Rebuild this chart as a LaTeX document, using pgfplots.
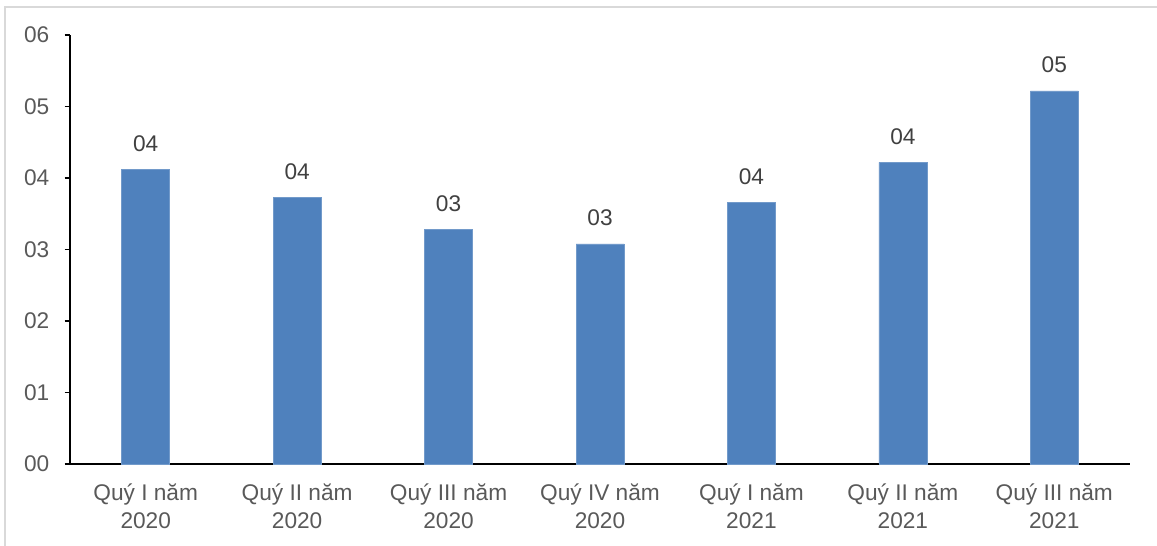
\documentclass[border=0pt]{standalone}
\usepackage{pgfplots}
\pgfplotsset{compat=1.18}
\usepackage{fontspec}
\setmainfont{Liberation Sans}
\definecolor{barblue}{HTML}{4F81BD}
\definecolor{axgray}{HTML}{595959}
\definecolor{lblgray}{HTML}{404040}
\definecolor{brd}{HTML}{D9D9D9}
\begin{document}
\begin{tikzpicture}
\draw[brd,line width=1.5pt] (4.1pt,0pt) -- (4.1pt,404.6pt) -- (867.75pt,404.6pt);
\begin{axis}[
  at={(52.5pt,61.5pt)}, anchor=south west,
  scale only axis, width=795pt, height=321.75pt,
  xmin=-0.5, xmax=6.5, ymin=0, ymax=6,
  axis x line*=bottom, axis y line*=left,
  axis line style={black, line width=1.1pt},
  x axis line style={-}, y axis line style={-},
  xtick=data, xticklabels={{Quý I năm\\2020},{Quý II năm\\2020},{Quý III năm\\2020},{Quý IV năm\\2020},{Quý I năm\\2021},{Quý II năm\\2021},{Quý III năm\\2021}},
  x tick label style={align=center, font=\fontsize{17}{21}\selectfont, text=axgray, yshift=-7.5pt},
  major x tick style={draw=none},
  ytick={0,1,2,3,4,5,6}, yticklabels={00,01,02,03,04,05,06},
  y tick label style={font=\fontsize{17}{20}\selectfont, text=axgray, xshift=-8pt},
  tick align=outside, major tick length=4pt,
  major y tick style={black, line width=1.1pt},
  ybar, bar width=36pt,
  nodes near coords, point meta=explicit symbolic,
  every node near coord/.append style={font=\fontsize{17}{20}\selectfont, text=lblgray, inner sep=0pt, anchor=south, yshift=13pt},
  clip=false,
]
\addplot[fill=barblue, draw=barblue!80!white] table[meta=lbl] {
x y lbl
0 4.12 04
1 3.73 04
2 3.28 03
3 3.08 03
4 3.66 04
5 4.22 04
6 5.22 05
};
\end{axis}
\pgfresetboundingbox
\path[use as bounding box] (0pt,0pt) rectangle (867.75pt,409.5pt);
\end{tikzpicture}
\end{document}
